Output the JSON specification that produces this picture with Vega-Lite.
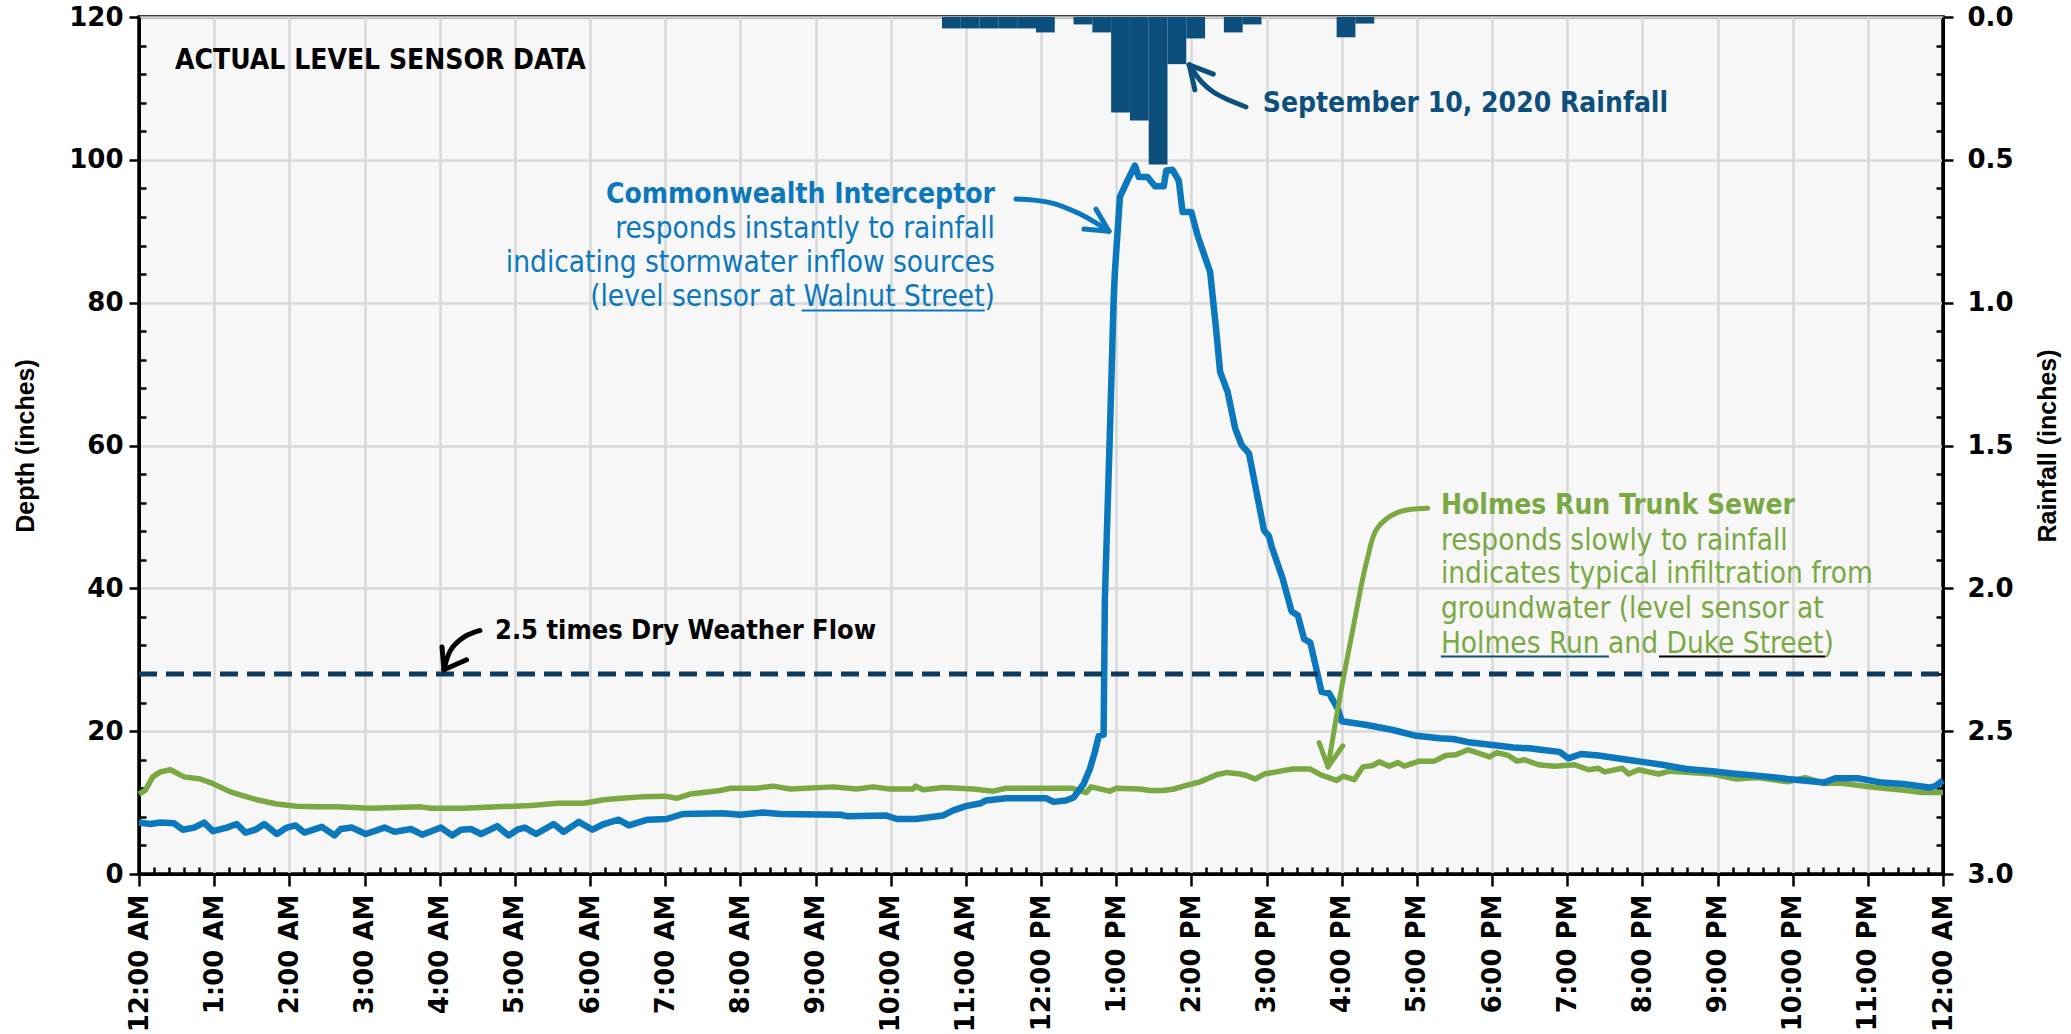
{
  "$schema": "https://vega.github.io/schema/vega-lite/v6.json",
  "autosize": {"type": "none"},
  "width": 1804,
  "height": 857,
  "padding": {"left": 139, "top": 17, "right": 128, "bottom": 160},
  "background": "white",
  "config": {
    "view": {"fill": "#f7f7f7", "stroke": "black", "strokeWidth": 3.5},
    "font": "DejaVu Sans"
  },
  "datasets": {
    "rain": [
      {"hour": 10.683, "end": 10.933, "rain": 0.04},
      {"hour": 10.933, "end": 11.183, "rain": 0.04},
      {"hour": 11.183, "end": 11.433, "rain": 0.04},
      {"hour": 11.433, "end": 11.683, "rain": 0.04},
      {"hour": 11.683, "end": 11.933, "rain": 0.04},
      {"hour": 11.933, "end": 12.183, "rain": 0.054},
      {"hour": 12.433, "end": 12.683, "rain": 0.026},
      {"hour": 12.683, "end": 12.933, "rain": 0.054},
      {"hour": 12.933, "end": 13.183, "rain": 0.334},
      {"hour": 13.183, "end": 13.433, "rain": 0.362},
      {"hour": 13.433, "end": 13.683, "rain": 0.516},
      {"hour": 13.683, "end": 13.933, "rain": 0.165},
      {"hour": 13.933, "end": 14.183, "rain": 0.075},
      {"hour": 14.433, "end": 14.683, "rain": 0.054},
      {"hour": 14.683, "end": 14.933, "rain": 0.026},
      {"hour": 15.933, "end": 16.183, "rain": 0.071},
      {"hour": 16.183, "end": 16.433, "rain": 0.023}
    ],
    "holmes": [
      {"hour": 0, "depth": 11.2}, {"hour": 0.083, "depth": 11.7}, {"hour": 0.183, "depth": 13.6},
      {"hour": 0.283, "depth": 14.3}, {"hour": 0.417, "depth": 14.6}, {"hour": 0.6, "depth": 13.6},
      {"hour": 0.817, "depth": 13.3}, {"hour": 0.95, "depth": 12.8}, {"hour": 1.217, "depth": 11.5},
      {"hour": 1.4, "depth": 10.9}, {"hour": 1.567, "depth": 10.4}, {"hour": 1.833, "depth": 9.8},
      {"hour": 2.1, "depth": 9.5}, {"hour": 2.367, "depth": 9.4}, {"hour": 2.633, "depth": 9.4},
      {"hour": 3.083, "depth": 9.2}, {"hour": 3.433, "depth": 9.3}, {"hour": 3.75, "depth": 9.4},
      {"hour": 3.883, "depth": 9.2}, {"hour": 4.317, "depth": 9.2}, {"hour": 4.767, "depth": 9.4},
      {"hour": 5.217, "depth": 9.6}, {"hour": 5.567, "depth": 9.9}, {"hour": 5.917, "depth": 9.9},
      {"hour": 6.183, "depth": 10.4}, {"hour": 6.417, "depth": 10.6}, {"hour": 6.683, "depth": 10.8},
      {"hour": 7, "depth": 10.9}, {"hour": 7.15, "depth": 10.6}, {"hour": 7.333, "depth": 11.2},
      {"hour": 7.733, "depth": 11.7}, {"hour": 7.867, "depth": 12.0}, {"hour": 8.217, "depth": 12.0},
      {"hour": 8.433, "depth": 12.3}, {"hour": 8.667, "depth": 11.9}, {"hour": 9.233, "depth": 12.2},
      {"hour": 9.55, "depth": 11.9}, {"hour": 9.767, "depth": 12.2}, {"hour": 9.983, "depth": 11.9},
      {"hour": 10.3, "depth": 11.9}, {"hour": 10.333, "depth": 12.3}, {"hour": 10.433, "depth": 11.8},
      {"hour": 10.7, "depth": 12.1}, {"hour": 11.1, "depth": 11.9}, {"hour": 11.367, "depth": 11.6},
      {"hour": 11.533, "depth": 12.0}, {"hour": 11.983, "depth": 12.0}, {"hour": 12.417, "depth": 12.0},
      {"hour": 12.6, "depth": 11.4}, {"hour": 12.667, "depth": 12.2}, {"hour": 12.917, "depth": 11.6},
      {"hour": 13, "depth": 12.0}, {"hour": 13.317, "depth": 11.9}, {"hour": 13.45, "depth": 11.7},
      {"hour": 13.633, "depth": 11.7}, {"hour": 13.767, "depth": 11.9}, {"hour": 13.967, "depth": 12.5},
      {"hour": 14.117, "depth": 12.9}, {"hour": 14.333, "depth": 13.9}, {"hour": 14.467, "depth": 14.2},
      {"hour": 14.65, "depth": 14.0}, {"hour": 14.733, "depth": 13.8}, {"hour": 14.85, "depth": 13.3},
      {"hour": 14.967, "depth": 14.0}, {"hour": 15.183, "depth": 14.4}, {"hour": 15.35, "depth": 14.7},
      {"hour": 15.583, "depth": 14.7}, {"hour": 15.717, "depth": 13.9}, {"hour": 15.933, "depth": 13.1},
      {"hour": 16.017, "depth": 13.7}, {"hour": 16.167, "depth": 13.2}, {"hour": 16.283, "depth": 15.0},
      {"hour": 16.417, "depth": 15.2}, {"hour": 16.5, "depth": 15.7}, {"hour": 16.633, "depth": 15.1},
      {"hour": 16.75, "depth": 15.6}, {"hour": 16.833, "depth": 15.1}, {"hour": 17.033, "depth": 15.8},
      {"hour": 17.233, "depth": 15.8}, {"hour": 17.383, "depth": 16.6}, {"hour": 17.517, "depth": 16.7},
      {"hour": 17.683, "depth": 17.4}, {"hour": 17.967, "depth": 16.4}, {"hour": 18.067, "depth": 17.0},
      {"hour": 18.217, "depth": 16.6}, {"hour": 18.333, "depth": 15.8}, {"hour": 18.433, "depth": 16.0},
      {"hour": 18.617, "depth": 15.3}, {"hour": 18.833, "depth": 15.1}, {"hour": 19.1, "depth": 15.3},
      {"hour": 19.283, "depth": 14.6}, {"hour": 19.417, "depth": 14.8}, {"hour": 19.5, "depth": 14.3},
      {"hour": 19.733, "depth": 14.8}, {"hour": 19.817, "depth": 14.0}, {"hour": 19.95, "depth": 14.6},
      {"hour": 20.217, "depth": 14.0}, {"hour": 20.367, "depth": 14.4}, {"hour": 20.933, "depth": 14.0},
      {"hour": 21.25, "depth": 13.3}, {"hour": 21.533, "depth": 13.5}, {"hour": 21.933, "depth": 12.9},
      {"hour": 22.167, "depth": 13.5}, {"hour": 22.417, "depth": 12.7}, {"hour": 22.65, "depth": 12.7},
      {"hour": 23.1, "depth": 12.1}, {"hour": 23.417, "depth": 11.8}, {"hour": 23.733, "depth": 11.4},
      {"hour": 24, "depth": 11.4}
    ],
    "commonwealth": [
      {"hour": 0, "depth": 7.2}, {"hour": 0.15, "depth": 7.0}, {"hour": 0.283, "depth": 7.2},
      {"hour": 0.467, "depth": 7.1}, {"hour": 0.583, "depth": 6.2}, {"hour": 0.733, "depth": 6.5},
      {"hour": 0.867, "depth": 7.2}, {"hour": 0.983, "depth": 6.0}, {"hour": 1.167, "depth": 6.5},
      {"hour": 1.3, "depth": 7.0}, {"hour": 1.417, "depth": 5.8}, {"hour": 1.55, "depth": 6.2},
      {"hour": 1.667, "depth": 7.0}, {"hour": 1.833, "depth": 5.6}, {"hour": 1.967, "depth": 6.5},
      {"hour": 2.083, "depth": 6.8}, {"hour": 2.2, "depth": 5.8}, {"hour": 2.433, "depth": 6.6},
      {"hour": 2.6, "depth": 5.4}, {"hour": 2.683, "depth": 6.3}, {"hour": 2.833, "depth": 6.5},
      {"hour": 3.017, "depth": 5.6}, {"hour": 3.267, "depth": 6.5}, {"hour": 3.4, "depth": 5.9},
      {"hour": 3.617, "depth": 6.3}, {"hour": 3.767, "depth": 5.5}, {"hour": 4.017, "depth": 6.5},
      {"hour": 4.167, "depth": 5.4}, {"hour": 4.283, "depth": 6.2}, {"hour": 4.417, "depth": 6.3},
      {"hour": 4.55, "depth": 5.6}, {"hour": 4.767, "depth": 6.7}, {"hour": 4.917, "depth": 5.4},
      {"hour": 5.033, "depth": 6.2}, {"hour": 5.133, "depth": 6.5}, {"hour": 5.283, "depth": 5.6},
      {"hour": 5.517, "depth": 7.0}, {"hour": 5.65, "depth": 5.9}, {"hour": 5.85, "depth": 7.3},
      {"hour": 6.033, "depth": 6.2}, {"hour": 6.183, "depth": 7.0}, {"hour": 6.383, "depth": 7.6},
      {"hour": 6.517, "depth": 6.8}, {"hour": 6.667, "depth": 7.3}, {"hour": 6.767, "depth": 7.6},
      {"hour": 7.017, "depth": 7.7}, {"hour": 7.233, "depth": 8.4}, {"hour": 7.767, "depth": 8.5},
      {"hour": 8, "depth": 8.3}, {"hour": 8.3, "depth": 8.6}, {"hour": 8.533, "depth": 8.4},
      {"hour": 9.333, "depth": 8.3}, {"hour": 9.417, "depth": 8.1}, {"hour": 9.933, "depth": 8.2},
      {"hour": 10.083, "depth": 7.7}, {"hour": 10.333, "depth": 7.7}, {"hour": 10.7, "depth": 8.2},
      {"hour": 10.833, "depth": 8.9}, {"hour": 11, "depth": 9.5}, {"hour": 11.2, "depth": 9.9},
      {"hour": 11.267, "depth": 10.3}, {"hour": 11.533, "depth": 10.6}, {"hour": 12.067, "depth": 10.6},
      {"hour": 12.167, "depth": 10.1}, {"hour": 12.333, "depth": 10.3}, {"hour": 12.433, "depth": 10.7},
      {"hour": 12.567, "depth": 12.6}, {"hour": 12.65, "depth": 14.7}, {"hour": 12.717, "depth": 17.1},
      {"hour": 12.767, "depth": 19.3}, {"hour": 12.833, "depth": 19.5}, {"hour": 12.85, "depth": 38.6},
      {"hour": 12.917, "depth": 62.0}, {"hour": 12.967, "depth": 80.6}, {"hour": 12.983, "depth": 84.3},
      {"hour": 13.05, "depth": 94.8}, {"hour": 13.15, "depth": 97.1}, {"hour": 13.25, "depth": 99.2},
      {"hour": 13.3, "depth": 97.6}, {"hour": 13.417, "depth": 97.6}, {"hour": 13.517, "depth": 96.3},
      {"hour": 13.633, "depth": 96.3}, {"hour": 13.667, "depth": 98.5}, {"hour": 13.75, "depth": 98.6},
      {"hour": 13.833, "depth": 97.1}, {"hour": 13.883, "depth": 92.7}, {"hour": 14, "depth": 92.7},
      {"hour": 14.083, "depth": 89.4}, {"hour": 14.25, "depth": 84.3}, {"hour": 14.333, "depth": 75.9},
      {"hour": 14.383, "depth": 70.3}, {"hour": 14.483, "depth": 67.5}, {"hour": 14.583, "depth": 62.4},
      {"hour": 14.667, "depth": 60.1}, {"hour": 14.767, "depth": 58.9}, {"hour": 14.967, "depth": 48.1},
      {"hour": 15.033, "depth": 47.3}, {"hour": 15.067, "depth": 45.9}, {"hour": 15.217, "depth": 41.3},
      {"hour": 15.333, "depth": 36.8}, {"hour": 15.417, "depth": 36.2}, {"hour": 15.5, "depth": 32.9},
      {"hour": 15.583, "depth": 32.4}, {"hour": 15.733, "depth": 25.5}, {"hour": 15.833, "depth": 25.3},
      {"hour": 15.95, "depth": 23.1}, {"hour": 16, "depth": 21.4}, {"hour": 16.317, "depth": 20.9},
      {"hour": 16.667, "depth": 20.2}, {"hour": 16.967, "depth": 19.4}, {"hour": 17.3, "depth": 19.0},
      {"hour": 17.483, "depth": 18.9}, {"hour": 17.717, "depth": 18.4}, {"hour": 18.067, "depth": 18.0},
      {"hour": 18.283, "depth": 17.7}, {"hour": 18.5, "depth": 17.6}, {"hour": 18.65, "depth": 17.4},
      {"hour": 18.9, "depth": 17.1}, {"hour": 19.017, "depth": 16.2}, {"hour": 19.183, "depth": 16.8},
      {"hour": 19.417, "depth": 16.6}, {"hour": 19.733, "depth": 16.1}, {"hour": 20, "depth": 15.7},
      {"hour": 20.267, "depth": 15.3}, {"hour": 20.583, "depth": 14.7}, {"hour": 20.933, "depth": 14.4},
      {"hour": 21.167, "depth": 14.1}, {"hour": 21.7, "depth": 13.6}, {"hour": 21.933, "depth": 13.3},
      {"hour": 22.417, "depth": 12.8}, {"hour": 22.567, "depth": 13.4}, {"hour": 22.867, "depth": 13.4},
      {"hour": 23.183, "depth": 12.8}, {"hour": 23.467, "depth": 12.6}, {"hour": 23.817, "depth": 12.1},
      {"hour": 23.9, "depth": 12.3}, {"hour": 24, "depth": 13.1}
    ],
    "threshold": [
      {"label": "2.5 times Dry Weather Flow", "hour": 0, "depth": 28},
      {"label": "2.5 times Dry Weather Flow", "hour": 24, "depth": 28}
    ],
    "notes": [
      {"group": "title", "part": "head", "hour": 0.48, "depth": 112.7, "text": "ACTUAL LEVEL SENSOR DATA"},
      {"group": "rain", "part": "head", "hour": 14.95, "depth": 106.7, "text": "September 10, 2020 Rainfall"},
      {"group": "commonwealth", "part": "head", "hour": 11.387, "depth": 94.0, "text": "Commonwealth Interceptor"},
      {"group": "commonwealth", "part": "body", "hour": 11.387, "depth": 89.1, "text": "responds instantly to rainfall"},
      {"group": "commonwealth", "part": "body", "hour": 11.387, "depth": 84.3, "text": "indicating stormwater inflow sources"},
      {"group": "commonwealth", "part": "body", "hour": 11.387, "depth": 79.5, "text": "(level sensor at Walnut Street)"},
      {"group": "holmes", "part": "head", "hour": 17.32, "depth": 50.4, "text": "Holmes Run Trunk Sewer"},
      {"group": "holmes", "part": "body", "hour": 17.32, "depth": 45.4, "text": "responds slowly to rainfall"},
      {"group": "holmes", "part": "body", "hour": 17.32, "depth": 40.7, "text": "indicates typical infiltration from"},
      {"group": "holmes", "part": "body", "hour": 17.32, "depth": 35.8, "text": "groundwater (level sensor at"},
      {"group": "holmes", "part": "body", "hour": 17.32, "depth": 30.9, "text": "Holmes Run and Duke Street)"},
      {"group": "dwf", "part": "head", "hour": 4.736, "depth": 32.9, "text": "2.5 times Dry Weather Flow"}
    ],
    "arrows": [
      {"arrow": "commonwealth", "piece": "shaft", "hour": 11.667, "depth": 94.5},
      {"arrow": "commonwealth", "piece": "shaft", "hour": 12.12, "depth": 94.0},
      {"arrow": "commonwealth", "piece": "shaft", "hour": 12.52, "depth": 92.4},
      {"arrow": "commonwealth", "piece": "shaft", "hour": 12.904, "depth": 90.0},
      {"arrow": "commonwealth", "piece": "arm1", "hour": 12.571, "depth": 90.3},
      {"arrow": "commonwealth", "piece": "arm1", "hour": 12.904, "depth": 90.0},
      {"arrow": "commonwealth", "piece": "arm2", "hour": 12.731, "depth": 93.1},
      {"arrow": "commonwealth", "piece": "arm2", "hour": 12.904, "depth": 90.0},
      {"arrow": "rain", "piece": "shaft", "hour": 14.727, "depth": 107.4},
      {"arrow": "rain", "piece": "shaft", "hour": 14.514, "depth": 108.3},
      {"arrow": "rain", "piece": "shaft", "hour": 14.292, "depth": 109.5},
      {"arrow": "rain", "piece": "shaft", "hour": 14.137, "depth": 110.9},
      {"arrow": "rain", "piece": "shaft", "hour": 13.972, "depth": 113.3},
      {"arrow": "rain", "piece": "arm1", "hour": 14.047, "depth": 109.8},
      {"arrow": "rain", "piece": "arm1", "hour": 13.972, "depth": 113.3},
      {"arrow": "rain", "piece": "arm2", "hour": 14.292, "depth": 112.0},
      {"arrow": "rain", "piece": "arm2", "hour": 13.972, "depth": 113.3},
      {"arrow": "dwf", "piece": "shaft", "hour": 4.536, "depth": 34.1},
      {"arrow": "dwf", "piece": "shaft", "hour": 4.327, "depth": 33.2},
      {"arrow": "dwf", "piece": "shaft", "hour": 4.149, "depth": 31.4},
      {"arrow": "dwf", "piece": "shaft", "hour": 4.057, "depth": 28.6},
      {"arrow": "dwf", "piece": "arm1", "hour": 4.031, "depth": 31.8},
      {"arrow": "dwf", "piece": "arm1", "hour": 4.057, "depth": 28.6},
      {"arrow": "dwf", "piece": "arm2", "hour": 4.357, "depth": 30.0},
      {"arrow": "dwf", "piece": "arm2", "hour": 4.057, "depth": 28.6},
      {"arrow": "holmes", "piece": "shaft", "hour": 17.144, "depth": 51.2},
      {"arrow": "holmes", "piece": "shaft", "hour": 16.739, "depth": 50.6},
      {"arrow": "holmes", "piece": "shaft", "hour": 16.472, "depth": 48.4},
      {"arrow": "holmes", "piece": "shaft", "hour": 16.336, "depth": 43.9},
      {"arrow": "holmes", "piece": "shaft", "hour": 16.146, "depth": 34.1},
      {"arrow": "holmes", "piece": "shaft", "hour": 15.968, "depth": 24.3},
      {"arrow": "holmes", "piece": "shaft", "hour": 15.819, "depth": 15.0},
      {"arrow": "holmes", "piece": "arm1", "hour": 15.7, "depth": 18.4},
      {"arrow": "holmes", "piece": "arm1", "hour": 15.819, "depth": 15.0},
      {"arrow": "holmes", "piece": "arm2", "hour": 16.016, "depth": 17.95},
      {"arrow": "holmes", "piece": "arm2", "hour": 15.819, "depth": 15.0}
    ],
    "underlines": [
      {"link": "Walnut Street", "hour": 8.816, "depth": 78.9},
      {"link": "Walnut Street", "hour": 11.252, "depth": 78.9},
      {"link": "Holmes Run", "hour": 17.32, "depth": 30.45},
      {"link": "Holmes Run", "hour": 19.556, "depth": 30.45},
      {"link": "Duke Street", "hour": 20.221, "depth": 30.45},
      {"link": "Duke Street", "hour": 22.437, "depth": 30.45}
    ]
  },
  "encoding": {
    "x": {
      "field": "hour", "type": "quantitative",
      "scale": {"domain": [0, 24], "nice": false, "zero": false},
      "axis": {
        "title": null,
        "values": [0, 0.2, 0.4, 0.6, 0.8, 1, 1.2, 1.4, 1.6, 1.8, 2, 2.2, 2.4, 2.6, 2.8, 3, 3.2, 3.4, 3.6, 3.8, 4, 4.2, 4.4, 4.6, 4.8, 5, 5.2, 5.4, 5.6, 5.8, 6, 6.2, 6.4, 6.6, 6.8, 7, 7.2, 7.4, 7.6, 7.8, 8, 8.2, 8.4, 8.6, 8.8, 9, 9.2, 9.4, 9.6, 9.8, 10, 10.2, 10.4, 10.6, 10.8, 11, 11.2, 11.4, 11.6, 11.8, 12, 12.2, 12.4, 12.6, 12.8, 13, 13.2, 13.4, 13.6, 13.8, 14, 14.2, 14.4, 14.6, 14.8, 15, 15.2, 15.4, 15.6, 15.8, 16, 16.2, 16.4, 16.6, 16.8, 17, 17.2, 17.4, 17.6, 17.8, 18, 18.2, 18.4, 18.6, 18.8, 19, 19.2, 19.4, 19.6, 19.8, 20, 20.2, 20.4, 20.6, 20.8, 21, 21.2, 21.4, 21.6, 21.8, 22, 22.2, 22.4, 22.6, 22.8, 23, 23.2, 23.4, 23.6, 23.8, 24],
        "labelExpr": "abs(datum.value - round(datum.value)) < 0.01 ? ((round(datum.value) % 12 === 0 ? 12 : round(datum.value) % 12) + ':00 ' + (round(datum.value) % 24 < 12 ? 'AM' : 'PM')) : ''",
        "labelAngle": 270,
        "labelFont": "DejaVu Sans", "labelFontWeight": "bold", "labelFontSize": 26, "labelColor": "black",
        "labelOverlap": false, "labelBound": false, "labelFlush": false, "labelPadding": 8,
        "tickSize": {"condition": {"test": "abs(datum.value - round(datum.value)) < 0.01", "value": 12}, "value": -7},
        "tickColor": "black", "tickWidth": 2.5,
        "domainColor": "black", "domainWidth": 3,
        "grid": true, "gridColor": "#d9d9d9", "gridWidth": 2.5,
        "gridOpacity": {"condition": {"test": "abs(datum.value - round(datum.value)) < 0.01", "value": 1}, "value": 0}
      }
    }
  },
  "layer": [
    {
      "data": {"name": "rain"},
      "mark": {"type": "rect", "color": "#0d4f7c"},
      "encoding": {
        "x2": {"field": "end"},
        "y": {
          "field": "rain", "type": "quantitative",
          "scale": {"domain": [0, 3], "reverse": true, "nice": false},
          "axis": {
            "orient": "right",
            "title": "Rainfall (inches)", "titleAngle": 270, "titleFont": "Liberation Sans", "titleFontSize": 25, "titleFontWeight": "bold", "titleColor": "black", "titlePadding": 47,
            "values": [0, 0.1, 0.2, 0.3, 0.4, 0.5, 0.6, 0.7, 0.8, 0.9, 1, 1.1, 1.2, 1.3, 1.4, 1.5, 1.6, 1.7, 1.8, 1.9, 2, 2.1, 2.2, 2.3, 2.4, 2.5, 2.6, 2.7, 2.8, 2.9, 3],
            "labelExpr": "abs(datum.value * 2 - round(datum.value * 2)) < 0.001 ? format(datum.value, '.1f') : ''",
            "labelFont": "DejaVu Sans", "labelFontWeight": "bold", "labelFontSize": 26, "labelColor": "black", "labelPadding": 14,
            "labelOverlap": false,
            "tickSize": {"condition": {"test": "abs(datum.value * 2 - round(datum.value * 2)) < 0.001", "value": 10}, "value": -7},
            "tickColor": "black", "tickWidth": 2.5,
            "domainColor": "black", "domainWidth": 3,
            "grid": false
          }
        },
        "y2": {"datum": 0}
      }
    },
    {
      "encoding": {
        "y": {
          "field": "depth", "type": "quantitative",
          "scale": {"domain": [0, 120], "nice": false},
          "axis": {
            "title": "Depth (inches)", "titleFont": "Liberation Sans", "titleFontSize": 25, "titleFontWeight": "bold", "titleColor": "black", "titlePadding": 30,
            "values": [0, 4, 8, 12, 16, 20, 24, 28, 32, 36, 40, 44, 48, 52, 56, 60, 64, 68, 72, 76, 80, 84, 88, 92, 96, 100, 104, 108, 112, 116, 120],
            "labelExpr": "datum.value % 20 === 0 ? datum.label : ''",
            "labelFont": "DejaVu Sans", "labelFontWeight": "bold", "labelFontSize": 26, "labelColor": "black", "labelPadding": 6,
            "labelOverlap": false,
            "tickSize": {"condition": {"test": "datum.value % 20 === 0", "value": 10}, "value": -7},
            "tickColor": "black", "tickWidth": 2.5,
            "domainColor": "black", "domainWidth": 3,
            "grid": true, "gridColor": "#d9d9d9", "gridWidth": 2.5,
            "gridOpacity": {"condition": {"test": "datum.value % 20 === 0", "value": 1}, "value": 0}
          }
        }
      },
      "layer": [
        {
          "data": {"name": "holmes"},
          "mark": {"type": "line", "color": "#7aa843", "strokeWidth": 5.5, "strokeJoin": "round"}
        },
        {
          "data": {"name": "commonwealth"},
          "mark": {"type": "line", "color": "#0b77bd", "strokeWidth": 6.5, "strokeJoin": "round"}
        },
        {
          "data": {"name": "threshold"},
          "mark": {"type": "line", "color": "#0d3b5e", "strokeWidth": 5, "strokeDash": [18, 9]}
        },
        {
          "data": {"name": "arrows"},
          "mark": {"type": "line", "strokeWidth": 5, "strokeCap": "round", "interpolate": "catmull-rom"},
          "encoding": {
            "color": {"field": "arrow", "type": "nominal", "legend": null,
              "scale": {"domain": ["commonwealth", "rain", "dwf", "holmes"], "range": ["#0b77bd", "#0d4f7c", "#000000", "#7aa843"]}},
            "detail": {"field": "piece"}
          }
        },
        {
          "data": {"name": "underlines"},
          "mark": {"type": "line", "strokeWidth": 2},
          "encoding": {
            "color": {"field": "link", "type": "nominal", "legend": null,
              "scale": {"domain": ["Walnut Street", "Holmes Run", "Duke Street"], "range": ["#0b77bd", "#7aa843", "#7aa843"]}}
          }
        },
        {
          "data": {"name": "notes"},
          "transform": [{"filter": "datum.group === 'title'"}],
          "mark": {"type": "text", "align": "left", "baseline": "alphabetic", "font": "DejaVu Sans Condensed, Roboto, sans-serif", "fontWeight": "bold", "fontSize": 28, "color": "black"},
          "encoding": {"text": {"field": "text"}}
        },
        {
          "data": {"name": "notes"},
          "transform": [{"filter": "datum.group === 'rain'"}],
          "mark": {"type": "text", "align": "left", "baseline": "alphabetic", "font": "DejaVu Sans Condensed, Roboto, sans-serif", "fontWeight": "bold", "fontSize": 28, "color": "#0d4f7c"},
          "encoding": {"text": {"field": "text"}}
        },
        {
          "data": {"name": "notes"},
          "transform": [{"filter": "datum.group === 'dwf'"}],
          "mark": {"type": "text", "align": "left", "baseline": "alphabetic", "font": "DejaVu Sans Condensed, Roboto, sans-serif", "fontWeight": "bold", "fontSize": 27, "color": "black"},
          "encoding": {"text": {"field": "text"}}
        },
        {
          "data": {"name": "notes"},
          "transform": [{"filter": "datum.group === 'commonwealth' && datum.part === 'head'"}],
          "mark": {"type": "text", "align": "right", "baseline": "alphabetic", "font": "DejaVu Sans Condensed, Roboto, sans-serif", "fontWeight": "bold", "fontSize": 28, "color": "#0b77bd"},
          "encoding": {"text": {"field": "text"}}
        },
        {
          "data": {"name": "notes"},
          "transform": [{"filter": "datum.group === 'commonwealth' && datum.part === 'body'"}],
          "mark": {"type": "text", "align": "right", "baseline": "alphabetic", "font": "DejaVu Sans Condensed, Roboto, sans-serif", "fontSize": 29.5, "color": "#0b77bd"},
          "encoding": {"text": {"field": "text"}}
        },
        {
          "data": {"name": "notes"},
          "transform": [{"filter": "datum.group === 'holmes' && datum.part === 'head'"}],
          "mark": {"type": "text", "align": "left", "baseline": "alphabetic", "font": "DejaVu Sans Condensed, Roboto, sans-serif", "fontWeight": "bold", "fontSize": 28, "color": "#7aa843"},
          "encoding": {"text": {"field": "text"}}
        },
        {
          "data": {"name": "notes"},
          "transform": [{"filter": "datum.group === 'holmes' && datum.part === 'body'"}],
          "mark": {"type": "text", "align": "left", "baseline": "alphabetic", "font": "DejaVu Sans Condensed, Roboto, sans-serif", "fontSize": 29.5, "color": "#7aa843"},
          "encoding": {"text": {"field": "text"}}
        }
      ]
    }
  ],
  "resolve": {"scale": {"y": "independent"}}
}
